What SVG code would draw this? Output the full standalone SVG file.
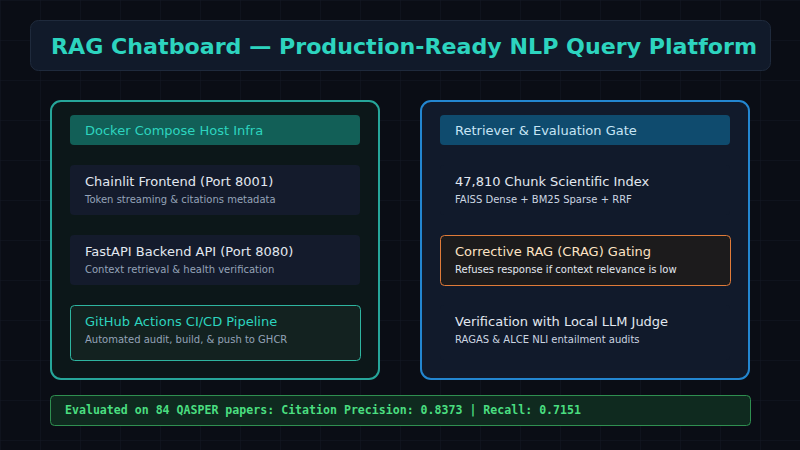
<svg xmlns="http://www.w3.org/2000/svg" width="800" height="450" viewBox="0 0 800 450">
  <defs>
    <pattern id="grid" width="40" height="40" patternUnits="userSpaceOnUse">
      <path d="M40 0H0V40" fill="none" stroke="#141925" stroke-width="1"/>
    </pattern>
    <style>
      .t { font-family: "DejaVu Sans", "Liberation Sans", sans-serif; }
      .title { font-size: 22px; font-weight: bold; fill: #2dd4bf; }
      .hdr { font-size: 13px; }
      .ct { font-size: 13px; fill: #e2e8f0; }
      .cs { font-size: 10px; fill: #94a3b8; }
      .card { fill: #141b2c; }
      .mono { font-family: "DejaVu Sans Mono", "Liberation Mono", monospace; font-size: 11.5px; font-weight: bold; fill: #4ade80; }
    </style>
  </defs>
  <rect width="800" height="450" fill="#0a0d15"/>
  <rect width="800" height="450" fill="url(#grid)"/>

  <g id="title">
    <rect x="30.5" y="20.5" width="740" height="50" rx="8" fill="#111a2a" stroke="#1f2a3c"/>
    <text class="t title" x="51" y="54" textLength="706" lengthAdjust="spacingAndGlyphs">RAG Chatboard — Production-Ready NLP Query Platform</text>
  </g>

  <g id="connectors"></g>

  <g id="infra-panel">
    <rect x="51" y="101" width="328" height="278" rx="10" fill="#0c1719" stroke="#26a69a" stroke-width="2"/>
  </g>
  <g id="infra-header">
    <rect x="70" y="115" width="290" height="30" rx="4" fill="#125f57"/>
    <text class="t hdr" x="85" y="135" fill="#2dd4bf">Docker Compose Host Infra</text>
  </g>
  <g id="chainlit">
    <rect class="card" x="70" y="165" width="290" height="50" rx="4"/>
    <text class="t ct" x="85" y="186">Chainlit Frontend (Port 8001)</text>
    <text class="t cs" x="85" y="203">Token streaming &amp; citations metadata</text>
  </g>
  <g id="fastapi">
    <rect class="card" x="70" y="235" width="290" height="50" rx="4"/>
    <text class="t ct" x="85" y="256">FastAPI Backend API (Port 8080)</text>
    <text class="t cs" x="85" y="273">Context retrieval &amp; health verification</text>
  </g>
  <g id="cicd">
    <rect x="70.5" y="305.5" width="290" height="55" rx="4" fill="#132220" stroke="#2eb5a0"/>
    <text class="t ct" x="85" y="326" fill="#2dd4bf" style="fill:#2dd4bf">GitHub Actions CI/CD Pipeline</text>
    <text class="t cs" x="85" y="343">Automated audit, build, &amp; push to GHCR</text>
  </g>

  <g id="retriever-panel">
    <rect x="421" y="101" width="328" height="278" rx="10" fill="#111a2b" stroke="#2386d0" stroke-width="2"/>
  </g>
  <g id="retriever-header">
    <rect x="440" y="115" width="290" height="30" rx="4" fill="#0f4b6e"/>
    <text class="t hdr" x="455" y="135" fill="#c7e5f5">Retriever &amp; Evaluation Gate</text>
  </g>
  <g id="index">
    <rect x="440" y="165" width="290" height="50" rx="4" fill="#111a2b"/>
    <text class="t ct" x="455" y="186">47,810 Chunk Scientific Index</text>
    <text class="t cs" x="455" y="203" style="fill:#cbd5e1">FAISS Dense + BM25 Sparse + RRF</text>
  </g>
  <g id="crag">
    <rect x="440.5" y="235.5" width="290" height="50" rx="4" fill="#1c1b1c" stroke="#e07b39"/>
    <text class="t ct" x="455" y="256" style="fill:#fde3c4">Corrective RAG (CRAG) Gating</text>
    <text class="t cs" x="455" y="273" style="fill:#e2e8f0">Refuses response if context relevance is low</text>
  </g>
  <g id="judge">
    <rect x="440" y="305" width="290" height="55" rx="4" fill="#111a2b"/>
    <text class="t ct" x="455" y="326">Verification with Local LLM Judge</text>
    <text class="t cs" x="455" y="343" style="fill:#cbd5e1">RAGAS &amp; ALCE NLI entailment audits</text>
  </g>

  <g id="footer">
    <rect x="50.5" y="395.5" width="700" height="30" rx="4" fill="#0f2a1f" stroke="#2f8f50"/>
    <text class="mono" x="65" y="414" textLength="516" lengthAdjust="spacingAndGlyphs">Evaluated on 84 QASPER papers: Citation Precision: 0.8373 | Recall: 0.7151</text>
  </g>
</svg>
